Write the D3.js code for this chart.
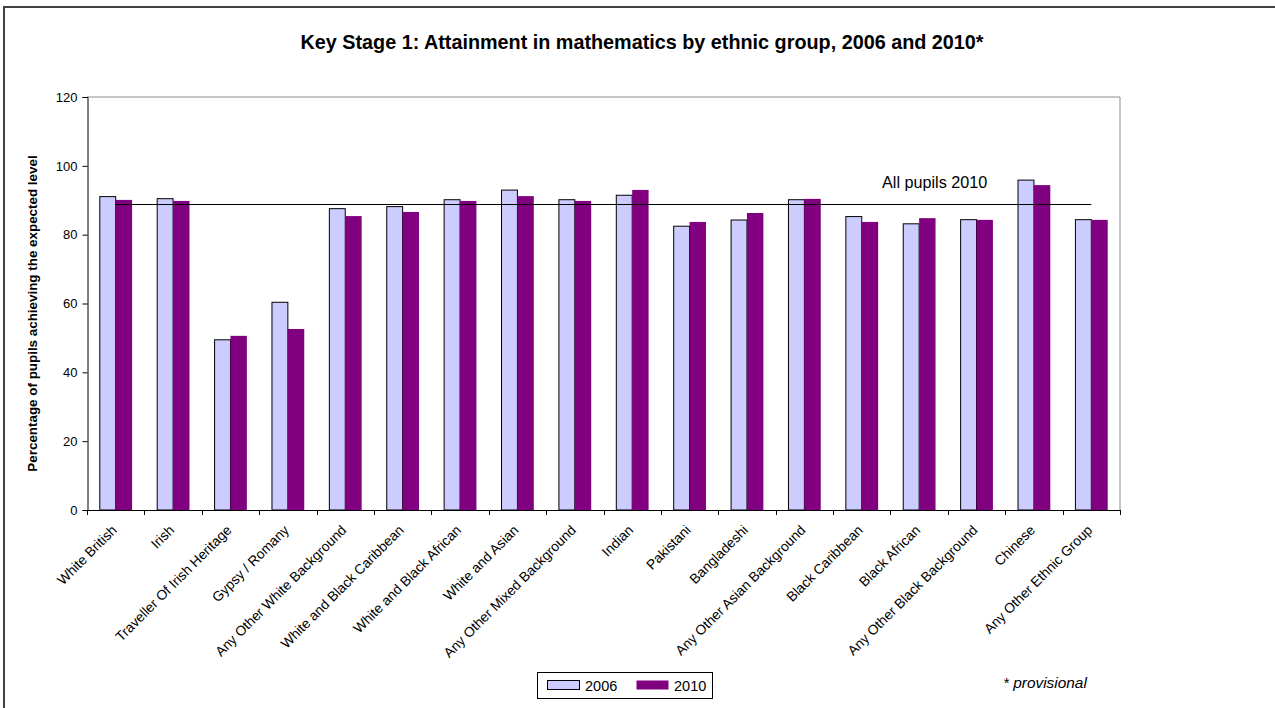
<!DOCTYPE html>
<html>
<head>
<meta charset="utf-8">
<script src="https://cdn.jsdelivr.net/npm/d3@7"></script>
<style>
  html, body { margin: 0; padding: 0; background: #fff; }
  svg { display: block; font-family: Arial, "Liberation Sans", sans-serif; }
</style>
</head>
<body>
<svg id="chart" width="1275" height="708"></svg>
<script>
// Ethnic groups on the x axis
const categories = [
  "White British", "Irish", "Traveller Of Irish Heritage", "Gypsy / Romany",
  "Any Other White Background", "White and Black Caribbean", "White and Black African",
  "White and Asian", "Any Other Mixed Background", "Indian", "Pakistani", "Bangladeshi",
  "Any Other Asian Background", "Black Caribbean", "Black African",
  "Any Other Black Background", "Chinese", "Any Other Ethnic Group"
];

// Percentage of pupils achieving the expected level
const values2006 = [91.2, 90.6, 49.6, 60.5, 87.7, 88.3, 90.3, 93.1, 90.3, 91.6, 82.6, 84.4, 90.3, 85.4, 83.3, 84.5, 96.0, 84.5];
const values2010 = [90.1, 89.8, 50.6, 52.6, 85.4, 86.6, 89.8, 91.2, 89.8, 93.0, 83.7, 86.3, 90.4, 83.7, 84.8, 84.3, 94.4, 84.3];

// National average reference line
const allPupils2010 = 89.0;

const seriesNames = ["2006", "2010"];
const yTicks = [0, 20, 40, 60, 80, 100, 120];

const colors = { "2006": "#CCCCFF", "2010": "#800080" };

const svg = d3.select("#chart");

const plot = { left: 87, right: 1120, top: 97, bottom: 510 };

// Outer chart frame
svg.append("path")
  .attr("d", "M4,708 V7 H1275")
  .attr("fill", "none")
  .attr("stroke", "#404040")
  .attr("stroke-width", 2);

// Title
svg.append("text")
  .attr("x", 642)
  .attr("y", 49)
  .attr("text-anchor", "middle")
  .attr("font-size", 19.8)
  .attr("font-weight", "bold")
  .text("Key Stage 1: Attainment in mathematics by ethnic group, 2006 and 2010*");

const x0 = d3.scaleBand()
  .domain(categories)
  .range([plot.left, plot.right])
  .padding(0);

const x1 = d3.scaleBand()
  .domain(seriesNames)
  .range([0, x0.step()])
  .paddingInner(0)
  .paddingOuter(0.75);

const y = d3.scaleLinear()
  .domain([0, 120])
  .range([plot.bottom, plot.top]);

// Plot area border (top and right)
svg.append("path")
  .attr("d", `M${plot.left},${plot.top} H${plot.right} V${plot.bottom}`)
  .attr("fill", "none")
  .attr("stroke", "#8c8c8c")
  .attr("stroke-width", 1);

// Bars
const rows = categories.map((c, i) => ({ cat: c, "2006": values2006[i], "2010": values2010[i] }));

const groups = svg.append("g")
  .selectAll("g")
  .data(rows)
  .join("g")
  .attr("transform", d => `translate(${x0(d.cat)},0)`);

groups.selectAll("rect")
  .data(d => seriesNames.map(s => ({ s, v: d[s] })))
  .join("rect")
  .attr("x", d => x1(d.s) + (d.s === "2006" ? 0.5 : 0))
  .attr("y", d => y(d.v) + (d.s === "2006" ? 0.5 : 0))
  .attr("width", d => x1.bandwidth() - (d.s === "2006" ? 0.5 : 0))
  .attr("height", d => y(0) - y(d.v) - (d.s === "2006" ? 0.5 : 0))
  .attr("fill", d => colors[d.s])
  .attr("stroke", d => d.s === "2006" ? "#000" : "none")
  .attr("stroke-width", 1);

// Reference line: all pupils 2010, spanning first to last category centre
const lineData = [categories[0], categories[categories.length - 1]];
svg.append("path")
  .datum(lineData)
  .attr("d", d3.line()
    .x(c => x0(c) + x0.bandwidth() / 2)
    .y(() => Math.round(y(allPupils2010)) + 0.5))
  .attr("fill", "none")
  .attr("stroke", "#000")
  .attr("stroke-width", 1.2);

svg.append("text")
  .attr("x", 882)
  .attr("y", 188)
  .attr("font-size", 16.2)
  .text("All pupils 2010");

// Y axis
const yAxis = d3.axisLeft(y)
  .tickValues(yTicks)
  .tickSize(5)
  .tickPadding(5)
  .tickFormat(d3.format("d"));

const gy = svg.append("g")
  .attr("transform", `translate(${plot.left + 0.5},0)`)
  .call(yAxis);
gy.select(".domain").attr("stroke", "#000");
gy.selectAll(".tick line").attr("stroke", "#000");
gy.selectAll(".tick text")
  .attr("font-size", 13)
  .attr("font-family", "Arial, 'Liberation Sans', sans-serif")
  .attr("fill", "#000");

// X axis baseline with ticks at category boundaries
const gx = svg.append("g");
gx.append("line")
  .attr("x1", plot.left).attr("x2", plot.right)
  .attr("y1", plot.bottom + 0.5).attr("y2", plot.bottom + 0.5)
  .attr("stroke", "#000");

const boundaries = categories.map(c => x0(c)).concat([x0.range()[1]]);
gx.selectAll("line.tick")
  .data(boundaries)
  .join("line")
  .attr("class", "tick")
  .attr("x1", d => Math.round(d) + 0.5)
  .attr("x2", d => Math.round(d) + 0.5)
  .attr("y1", plot.bottom)
  .attr("y2", plot.bottom + 5)
  .attr("stroke", "#000");

gx.selectAll("text")
  .data(categories)
  .join("text")
  .attr("text-anchor", "end")
  .attr("font-size", 13.8)
  .attr("transform", c => `translate(${x0(c) + x0.bandwidth() / 2 + 2},${plot.bottom + 21}) rotate(-45)`)
  .text(c => c);

// Y axis title
svg.append("text")
  .attr("transform", `translate(37,${(plot.top + plot.bottom) / 2 + 10}) rotate(-90)`)
  .attr("text-anchor", "middle")
  .attr("font-size", 13.4)
  .attr("font-weight", "bold")
  .text("Percentage of pupils achieving the expected level");

// Legend
const legend = svg.append("g").attr("transform", "translate(537,672)");
legend.append("rect")
  .attr("x", 0.5).attr("y", 0.5)
  .attr("width", 175).attr("height", 26)
  .attr("fill", "#fff")
  .attr("stroke", "#000");

const legendItems = legend.selectAll("g")
  .data(seriesNames)
  .join("g")
  .attr("transform", (d, i) => `translate(${10 + i * 89},8)`);

legendItems.append("rect")
  .attr("x", 0.5).attr("y", 0.5)
  .attr("width", 32).attr("height", 9)
  .attr("fill", d => colors[d])
  .attr("stroke", d => d === "2006" ? "#000" : "none");

legendItems.append("text")
  .attr("x", 38)
  .attr("y", 10.5)
  .attr("font-size", 14.5)
  .text(d => d);

// Footnote
svg.append("text")
  .attr("x", 1003)
  .attr("y", 688)
  .attr("font-size", 15.4)
  .attr("font-style", "italic")
  .text("* provisional");
</script>
</body>
</html>
